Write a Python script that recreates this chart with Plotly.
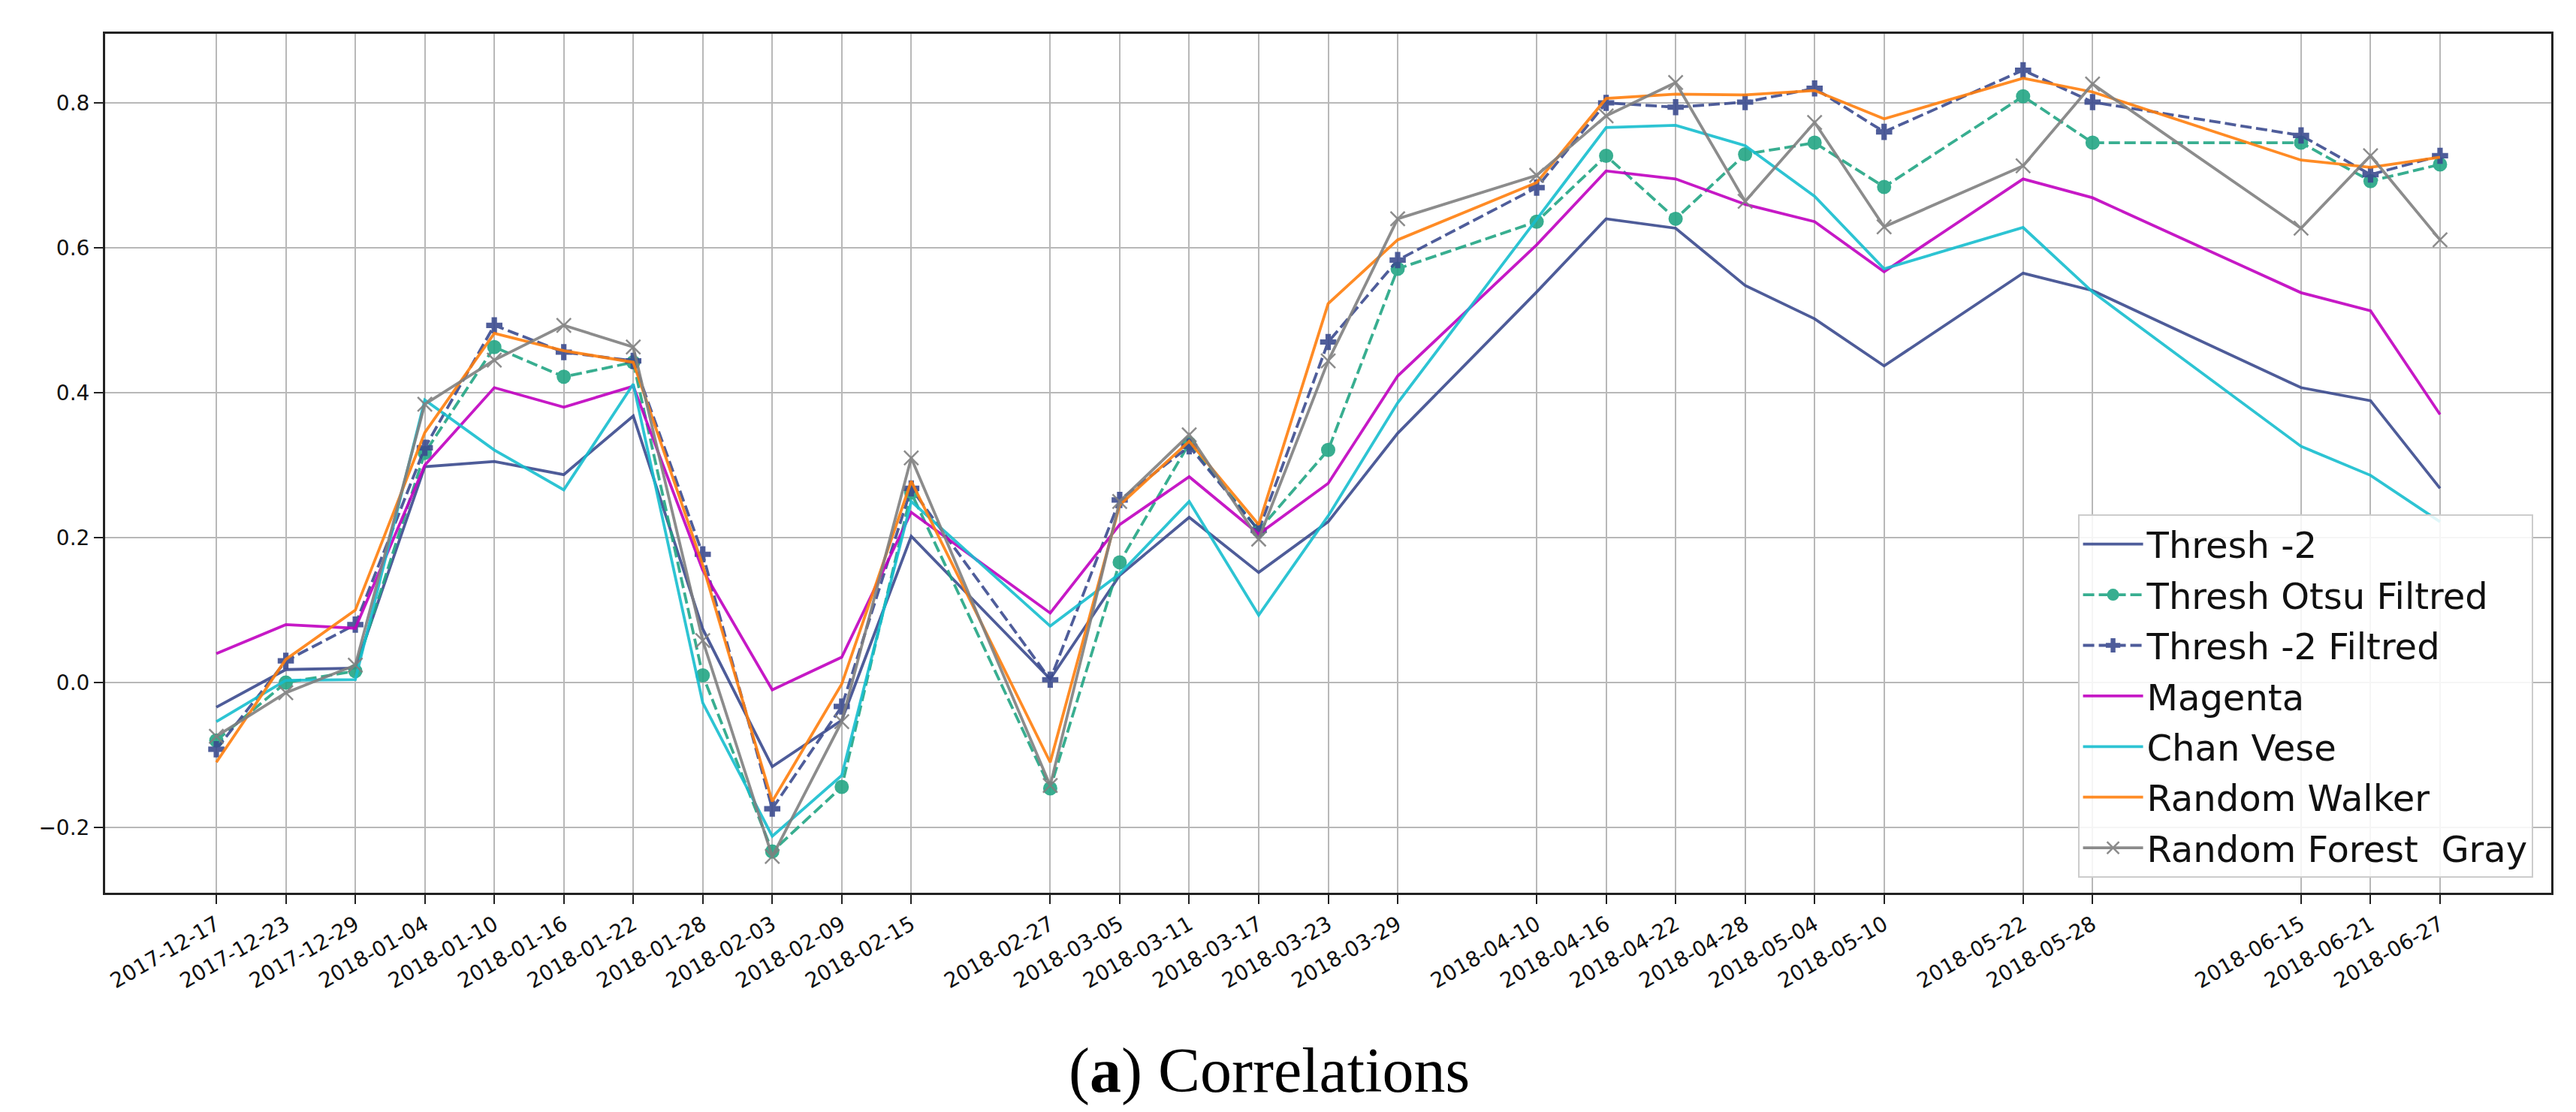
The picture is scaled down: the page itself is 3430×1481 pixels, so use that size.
import plotly.graph_objects as go
from datetime import datetime

dates = ["2017-12-17","2017-12-23","2017-12-29","2018-01-04","2018-01-10","2018-01-16","2018-01-22",
         "2018-01-28","2018-02-03","2018-02-09","2018-02-15","2018-02-27","2018-03-05","2018-03-11",
         "2018-03-17","2018-03-23","2018-03-29","2018-04-10","2018-04-16","2018-04-22","2018-04-28",
         "2018-05-04","2018-05-10","2018-05-22","2018-05-28","2018-06-15","2018-06-21","2018-06-27"]

thresh_m2 = [-0.034, 0.018, 0.020, 0.298, 0.305, 0.287, 0.368, 0.074, -0.116, -0.052, 0.202, 0.005,
             0.148, 0.228, 0.152, 0.222, 0.344, 0.539, 0.640, 0.627, 0.548, 0.502, 0.437, 0.565,
             0.541, 0.407, 0.389, 0.268]
otsu_filt = [-0.080, 0.000, 0.016, 0.317, 0.463, 0.422, 0.442, 0.010, -0.233, -0.144, 0.262, -0.146,
             0.166, 0.330, 0.210, 0.321, 0.571, 0.636, 0.727, 0.640, 0.729, 0.745, 0.684, 0.809,
             0.745, 0.745, 0.692, 0.715]
thresh_m2_filt = [-0.092, 0.030, 0.080, 0.324, 0.493, 0.456, 0.444, 0.177, -0.174, -0.033, 0.268, 0.004,
                  0.252, 0.326, 0.210, 0.470, 0.583, 0.683, 0.800, 0.794, 0.801, 0.820, 0.760, 0.845,
                  0.801, 0.755, 0.701, 0.727]
magenta = [0.040, 0.080, 0.075, 0.300, 0.407, 0.380, 0.409, 0.155, -0.010, 0.035, 0.235, 0.096,
           0.218, 0.284, 0.205, 0.275, 0.423, 0.604, 0.706, 0.695, 0.660, 0.636, 0.567, 0.695,
           0.669, 0.538, 0.513, 0.370]
chan_vese = [-0.054, 0.003, 0.004, 0.390, 0.321, 0.266, 0.412, -0.028, -0.212, -0.128, 0.250, 0.078,
             0.150, 0.250, 0.093, 0.230, 0.386, 0.639, 0.766, 0.769, 0.741, 0.671, 0.571, 0.628,
             0.539, 0.326, 0.286, 0.222]
random_walker = [-0.110, 0.032, 0.100, 0.345, 0.482, 0.458, 0.442, 0.162, -0.164, -0.002, 0.278, -0.110,
                 0.245, 0.333, 0.218, 0.523, 0.611, 0.690, 0.806, 0.812, 0.811, 0.817, 0.778, 0.834,
                 0.815, 0.721, 0.711, 0.725]
rf_gray = [-0.074, -0.014, 0.024, 0.384, 0.445, 0.493, 0.463, 0.058, -0.240, -0.054, 0.310, -0.142,
           0.250, 0.342, 0.198, 0.444, 0.640, 0.700, 0.782, 0.828, 0.664, 0.773, 0.629, 0.713,
           0.826, 0.627, 0.727, 0.611]

ytick_vals = [-0.2, 0.0, 0.2, 0.4, 0.6, 0.8]
ytick_text = ["\u22120.2", "0.0", "0.2", "0.4", "0.6", "0.8"]

series = [
    ("Thresh -2", thresh_m2, "#3b4b8f", "solid", None),
    ("Thresh Otsu Filtred", otsu_filt, "#22a584", "dash", "circle"),
    ("Thresh -2 Filtred", thresh_m2_filt, "#3b4b8f", "dash", "cross"),
    ("Magenta", magenta, "#c000c0", "solid", None),
    ("Chan Vese", chan_vese, "#17becf", "solid", None),
    ("Random Walker", random_walker, "#ff7f0e", "solid", None),
    ("Random Forest  Gray", rf_gray, "#7f7f7f", "solid", "x-thin-open"),
]

fig = go.Figure()
for i, (name, vals, color, dash, sym) in enumerate(series):
    mode = "lines+markers" if sym else "lines"
    marker = None
    if sym == "circle":
        marker = dict(symbol="circle", size=19, color=color)
    elif sym == "cross":
        marker = dict(symbol="cross", size=18, color=color)
    elif sym == "x-thin-open":
        marker = dict(symbol="x-thin-open", size=19, color=color, line=dict(width=2.5, color=color))
    fig.add_trace(go.Scatter(
        x=dates, y=vals, name=name, mode=mode,
        line=dict(color=color, width=3.8, dash=("15px,6px" if dash == "dash" else "solid")),
        marker=marker, opacity=0.9, legendgroup="g%d" % i,
    ))

d0 = datetime(2017, 12, 17)
d1 = datetime(2018, 6, 27)
pad = (d1 - d0) * 0.05
xr = [(d0 - pad).isoformat(), (d1 + pad).isoformat()]

tickfont = dict(family="DejaVu Sans", size=28, color="#111111")

fig.update_layout(
    width=3430, height=1481,
    margin=dict(l=132, r=41, t=37, b=300, autoexpand=False),
    paper_bgcolor="white", plot_bgcolor="white",
    showlegend=True,
    legend=dict(
        x=0.9925, y=0.0175, xanchor="right", yanchor="bottom",
        bgcolor="rgba(255,255,255,0.85)", bordercolor="#cccccc", borderwidth=2,
        font=dict(family="DejaVu Sans", size=48, color="#111111"),
        traceorder="grouped", tracegroupgap=2, itemwidth=80,
    ),
    xaxis=dict(
        type="date", range=xr,
        tickmode="array", tickvals=dates, ticktext=dates, tickangle=-30,
        tickfont=tickfont,
        showgrid=True, gridcolor="#b8b8b8", gridwidth=2,
        ticks="outside", ticklen=12, tickwidth=2, tickcolor="#222222",
        showline=True, mirror=True, linecolor="#222222", linewidth=3,
        zeroline=False,
    ),
    yaxis=dict(
        range=[-0.290, 0.8953],
        tickmode="array", tickvals=ytick_vals, ticktext=ytick_text,
        tickfont=tickfont,
        showgrid=True, gridcolor="#b8b8b8", gridwidth=2,
        ticks="outside", ticklen=12, tickwidth=2, tickcolor="#222222",
        showline=True, mirror=True, linecolor="#222222", linewidth=3,
        zeroline=False,
    ),
    annotations=[dict(
        text="(<b>a</b>) Correlations", xref="paper", yref="paper",
        x=0.476, y=-0.207, xanchor="center", yanchor="middle", showarrow=False,
        font=dict(family="Liberation Serif", size=84, color="black"),
    )],
)

fig.write_html("out.html")
